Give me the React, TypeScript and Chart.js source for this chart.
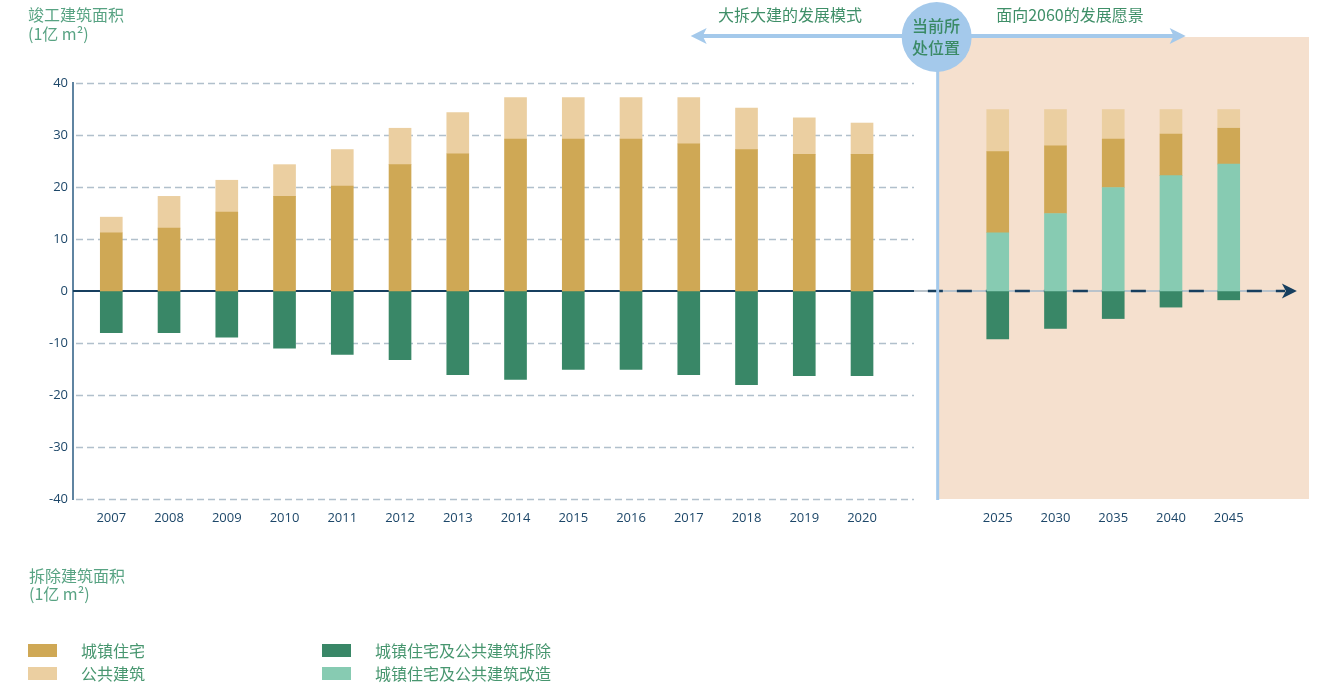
import React, { useEffect, useRef } from 'react';
import { Chart, registerables } from 'chart.js';

Chart.register(...registerables);

// ---------- data ----------
const HIST_YEARS = ['2007', '2008', '2009', '2010', '2011', '2012', '2013', '2014', '2015', '2016', '2017', '2018', '2019', '2020'];
const FUTURE_YEARS = ['2025', '2030', '2035', '2040', '2045'];

const HIST_RESIDENTIAL = [11.2, 12.1, 15.2, 18.2, 20.2, 24.3, 26.4, 29.2, 29.2, 29.2, 28.3, 27.2, 26.3, 26.3];
const HIST_PUBLIC = [3.0, 6.1, 6.1, 6.1, 7.0, 7.0, 7.9, 8.0, 8.0, 8.0, 8.9, 8.0, 7.0, 6.0];
const HIST_DEMOLITION = [-8.0, -8.0, -8.9, -11.0, -12.2, -13.2, -16.1, -17.0, -15.1, -15.1, -16.1, -18.0, -16.3, -16.3];

const FUTURE_RENOVATION = [11.2, 14.9, 19.9, 22.2, 24.4];
const FUTURE_RESIDENTIAL = [15.6, 13.0, 9.3, 8.0, 6.9];
const FUTURE_PUBLIC = [8.1, 7.0, 5.7, 4.7, 3.6];
const FUTURE_DEMOLITION = [-9.2, -7.2, -5.3, -3.1, -1.7];

const Y_TICKS = [-40, -30, -20, -10, 0, 10, 20, 30, 40];

const LEGEND_ITEMS = [
  { label: '城镇住宅', color: '#cfa855' },
  { label: '公共建筑', color: '#ebcfa1' },
  { label: '城镇住宅及公共建筑拆除', color: '#398767' },
  { label: '城镇住宅及公共建筑改造', color: '#87cbb2' },
];

// ---------- layout (x expressed in slot units of the linear x scale) ----------
const FUTURE_OFFSET = 15.35; // slot of the first future year
const X_MIN = -0.663;
const X_MAX = 20.74;
const GRID_END = 13.9;
const SOLID_END = 13.9;
const DIVIDER = 14.31;
const DASH_START = 14.14;
const ARROW_BASE = 20.29;
const ARROW_TIP = 20.53;
const ANNOT_Y = 36;

const C_RES = '#cfa855';
const C_PUB = '#ebcfa1';
const C_DEMO = '#398767';
const C_RENO = '#87cbb2';
const NAVY = '#1d4769';
const LINE_NAVY = '#173f5f';
const BLUE = '#a4c9eb';
const PEACH = '#f5e0ce';

const histX = (i: number) => i;
const futX = (j: number) => FUTURE_OFFSET + j;

const TICK_POS = [...HIST_YEARS.map((_, i) => histX(i)), ...FUTURE_YEARS.map((_, j) => futX(j))];
const TICK_LABELS = [...HIST_YEARS, ...FUTURE_YEARS];

const CJK = '"Noto Sans CJK SC", "Noto Sans", sans-serif';

function arrowHead(ctx: CanvasRenderingContext2D, tipX: number, y: number, dir: number, len: number, half: number, notch: number) {
  ctx.beginPath();
  ctx.moveTo(tipX, y);
  ctx.lineTo(tipX - dir * len, y - half);
  ctx.lineTo(tipX - dir * (len - notch), y);
  ctx.lineTo(tipX - dir * len, y + half);
  ctx.closePath();
  ctx.fill();
}

const decorPlugin = {
  id: 'decor',
  beforeDatasetsDraw(chart: any) {
    const { ctx, chartArea, scales } = chart;
    const xs = scales.x;
    const ys = scales.y;
    const px = (v: number) => xs.getPixelForValue(v);
    const y0 = ys.getPixelForValue(0);
    const divX = px(DIVIDER);
    ctx.save();

    // shaded future region
    ctx.fillStyle = PEACH;
    ctx.fillRect(divX, ANNOT_Y + 1, chartArea.right - divX, chartArea.bottom - ANNOT_Y - 1);

    // dashed gridlines (historic part only)
    ctx.strokeStyle = '#b1c0cc';
    ctx.lineWidth = 1.3;
    ctx.setLineDash([7, 4]);
    Y_TICKS.filter((t) => t !== 0).forEach((t) => {
      const yy = Math.round(ys.getPixelForValue(t)) + 0.5;
      ctx.beginPath();
      ctx.moveTo(chartArea.left + 3, yy);
      ctx.lineTo(px(GRID_END), yy);
      ctx.stroke();
    });
    ctx.setLineDash([]);

    // zero line: solid historic part
    ctx.strokeStyle = LINE_NAVY;
    ctx.lineWidth = 2;
    ctx.beginPath();
    ctx.moveTo(chartArea.left, y0);
    ctx.lineTo(px(SOLID_END), y0);
    ctx.stroke();
    // grey underlay
    ctx.strokeStyle = '#b9c3cb';
    ctx.lineWidth = 2;
    ctx.beginPath();
    ctx.moveTo(px(SOLID_END), y0);
    ctx.lineTo(px(ARROW_BASE), y0);
    ctx.stroke();
    // dark dashes
    ctx.strokeStyle = LINE_NAVY;
    ctx.lineWidth = 2.5;
    ctx.setLineDash([15, 14]);
    ctx.beginPath();
    ctx.moveTo(px(DASH_START), y0);
    ctx.lineTo(px(ARROW_BASE) + 2, y0);
    ctx.stroke();
    ctx.setLineDash([]);
    ctx.fillStyle = LINE_NAVY;
    arrowHead(ctx, px(ARROW_TIP), y0, 1, 15, 7.5, 4);

    // vertical divider
    ctx.strokeStyle = BLUE;
    ctx.lineWidth = 3;
    ctx.beginPath();
    ctx.moveTo(divX, ANNOT_Y + 20);
    ctx.lineTo(divX, chartArea.bottom + 1);
    ctx.stroke();

    // top arrows
    const cx = divX - 1;
    ctx.strokeStyle = BLUE;
    ctx.fillStyle = BLUE;
    ctx.lineWidth = 4;
    ctx.beginPath();
    ctx.moveTo(cx, ANNOT_Y);
    ctx.lineTo(cx - 238, ANNOT_Y);
    ctx.stroke();
    arrowHead(ctx, cx - 246, ANNOT_Y, -1, 16, 8, 4);
    ctx.beginPath();
    ctx.moveTo(cx, ANNOT_Y);
    ctx.lineTo(cx + 241, ANNOT_Y);
    ctx.stroke();
    arrowHead(ctx, cx + 249, ANNOT_Y, 1, 16, 8, 4);

    // circle
    ctx.beginPath();
    ctx.ellipse(cx, ANNOT_Y + 1, 35, 35, 0, 0, Math.PI * 2);
    ctx.fill();

    ctx.restore();
  },
};

function Txt(props: { left: number; top: number; width?: number; align?: 'left' | 'center'; size?: number; lh?: number; color: string; children: React.ReactNode; weight?: number }) {
  const { left, top, width, align = 'left', size = 16, lh = 20, color, children, weight = 400 } = props;
  return (
    <div
      style={{
        position: 'absolute',
        left,
        top,
        width,
        textAlign: align,
        fontFamily: CJK,
        fontSize: size,
        lineHeight: `${lh}px`,
        color,
        fontWeight: weight,
        whiteSpace: 'nowrap',
      }}
    >
      {children}
    </div>
  );
}

export default function App() {
  const ref = useRef<HTMLCanvasElement | null>(null);

  useEffect(() => {
    if (!ref.current) return;
    const barCommon = { barThickness: 22, borderWidth: 0, stack: 's' };
    const chart = new Chart(ref.current, {
      type: 'bar',
      data: {
        datasets: [
          {
            ...barCommon,
            label: '城镇住宅及公共建筑改造',
            backgroundColor: C_RENO,
            data: FUTURE_RENOVATION.map((v, j) => ({ x: futX(j), y: v })),
          },
          {
            ...barCommon,
            label: '城镇住宅',
            backgroundColor: C_RES,
            data: [
              ...HIST_RESIDENTIAL.map((v, i) => ({ x: histX(i), y: v })),
              ...FUTURE_RESIDENTIAL.map((v, j) => ({ x: futX(j), y: v })),
            ],
          },
          {
            ...barCommon,
            label: '公共建筑',
            backgroundColor: C_PUB,
            data: [
              ...HIST_PUBLIC.map((v, i) => ({ x: histX(i), y: v })),
              ...FUTURE_PUBLIC.map((v, j) => ({ x: futX(j), y: v })),
            ],
          },
          {
            ...barCommon,
            label: '城镇住宅及公共建筑拆除',
            backgroundColor: C_DEMO,
            data: [
              ...HIST_DEMOLITION.map((v, i) => ({ x: histX(i), y: v })),
              ...FUTURE_DEMOLITION.map((v, j) => ({ x: futX(j), y: v })),
            ],
          },
        ] as any,
      },
      options: {
        responsive: false,
        animation: false,
        devicePixelRatio: 1,
        layout: { padding: { top: 83, right: 16, bottom: 144, left: 0 } },
        plugins: { legend: { display: false }, tooltip: { enabled: false } },
        scales: {
          x: {
            type: 'linear',
            min: X_MIN,
            max: X_MAX,
            offset: false,
            stacked: true,
            grid: { display: false, drawTicks: false },
            border: { display: false },
            afterBuildTicks: (s: any) => {
              s.ticks = TICK_POS.map((v) => ({ value: v }));
            },
            afterFit: (s: any) => {
              s.height = 40;
            },
            ticks: {
              autoSkip: false,
              maxRotation: 0,
              padding: 11,
              color: NAVY,
              font: { family: '"Open Sans", sans-serif', size: 13 },
              callback: (_v: any, i: number) => TICK_LABELS[i],
            },
          },
          y: {
            min: -40,
            max: 40,
            stacked: true,
            grid: { display: false, drawTicks: false },
            border: { display: true, color: '#5f84a1', width: 2 },
            afterFit: (s: any) => {
              s.width = 73;
            },
            ticks: {
              stepSize: 10,
              padding: 5,
              color: NAVY,
              font: { family: '"Open Sans", sans-serif', size: 13 },
            },
          },
        },
      } as any,
      plugins: [decorPlugin],
    });
    return () => chart.destroy();
  }, []);

  const titleGreen = '#58a383';
  const annoGreen = '#3f8f68';
  const legendGreen = '#47966f';

  return (
    <div style={{ position: 'fixed', left: 0, top: 0, width: 1325, height: 683, background: '#fff', overflow: 'hidden' }}>
      <canvas ref={ref} width={1325} height={683} style={{ position: 'absolute', left: 0, top: 0, width: 1325, height: 683 }} />

      <Txt left={28} top={4} color={titleGreen}>竣工建筑面积</Txt>
      <Txt left={28} top={23} color={titleGreen}>(1亿 m²)</Txt>

      <Txt left={690} top={4} width={200} align="center" color={annoGreen}>大拆大建的发展模式</Txt>
      <Txt left={970} top={4} width={200} align="center" color={annoGreen}>面向2060的发展愿景</Txt>

      <Txt left={886} top={14} width={100} align="center" lh={22} color="#3a8a66" weight={500}>
        当前所
        <br />
        处位置
      </Txt>

      <Txt left={29} top={565} color={titleGreen}>拆除建筑面积</Txt>
      <Txt left={29} top={583} color={titleGreen}>(1亿 m²)</Txt>

      {LEGEND_ITEMS.map((it, k) => {
        const col = Math.floor(k / 2);
        const row = k % 2;
        const left = col === 0 ? 28 : 322;
        const top = row === 0 ? 644 : 667;
        return (
          <React.Fragment key={it.label}>
            <div style={{ position: 'absolute', left, top, width: 29, height: 13, background: it.color }} />
            <Txt left={left + 53} top={top - 4} color={legendGreen}>{it.label}</Txt>
          </React.Fragment>
        );
      })}
    </div>
  );
}
